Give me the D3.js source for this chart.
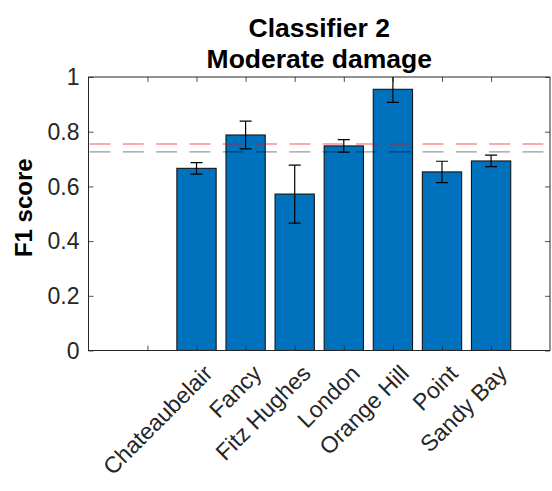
<!DOCTYPE html>
<html><head><meta charset="utf-8">
<script src="https://cdn.jsdelivr.net/npm/d3@7"></script>
<style>body{margin:0;background:#fff}svg{display:block}text{font-family:"Liberation Sans",Arial,Helvetica,sans-serif}</style>
</head><body><svg id="c" width="552" height="491"></svg>
<script>
const categories = ["", "Chateaubelair", "Fancy", "Fitz Hughes", "London", "Orange Hill", "Point", "Sandy Bay"];
const f1Values = [null, 0.666, 0.788, 0.572, 0.748, 0.955, 0.653, 0.693];
const f1Errors = [null, 0.021, 0.051, 0.106, 0.023, 0.048, 0.039, 0.021];
const refRed = 0.755;
const refGray = 0.726;
const yTicks = [0, 0.2, 0.4, 0.6, 0.8, 1];
const yTickLabels = ["0", "0.2", "0.4", "0.6", "0.8", "1"];

const svg = d3.select("#c");
const L = 88.5, R = 550, T = 77, B = 350.5;
const x = d3.scaleLinear().domain([-0.2, categories.length + 1.2]).range([L, R]);
const y = d3.scaleLinear().domain([0, 1]).range([B, T]);
const idx = categories.map((d, i) => i + 1);

svg.append("defs").append("clipPath").attr("id", "pc")
  .append("rect").attr("x", L).attr("y", T).attr("width", R - L).attr("height", B - T);

const plot = svg.append("g").attr("clip-path", "url(#pc)");
const data = idx.map((p, i) => ({p, v: f1Values[i], e: f1Errors[i]})).filter(d => d.v != null);
const bw = x(0.8) - x(0);

plot.selectAll("rect.bar").data(data).join("rect").attr("class", "bar")
  .attr("x", d => x(d.p) - bw / 2).attr("width", bw)
  .attr("y", d => y(d.v)).attr("height", d => y(0) - y(d.v))
  .attr("fill", "#0072BD").attr("stroke", "#151515").attr("stroke-width", 1.1);

// axes (box with inward ticks)
const tickLen = 5;
const axL = d3.axisRight(y).tickValues(yTicks).tickSize(tickLen).tickFormat("");
const axR = d3.axisLeft(y).tickValues(yTicks).tickSize(tickLen).tickFormat("");
const axB = d3.axisTop(x).tickValues(idx).tickSize(tickLen).tickFormat("");
const axT = d3.axisBottom(x).tickValues(idx).tickSize(tickLen).tickFormat("");
[[axL, `translate(${L},0)`], [axR, `translate(${R},0)`], [axB, `translate(0,${B})`], [axT, `translate(0,${T})`]].forEach(([a, t]) => {
  const g = svg.append("g").attr("transform", t).call(a);
  g.select(".domain").remove();
  g.selectAll("line").attr("stroke", "#262626").attr("stroke-width", 0.8);
});
svg.append("rect").attr("x", L).attr("y", T).attr("width", R - L).attr("height", B - T)
  .attr("fill", "none").attr("stroke", "#262626").attr("stroke-width", 1);

// error bars
const cap = 6;
const eb = plot.selectAll("g.eb").data(data).join("g").attr("class", "eb")
  .attr("stroke", "#000").attr("stroke-width", 1.2);
eb.append("line").attr("x1", d => x(d.p)).attr("x2", d => x(d.p))
  .attr("y1", d => y(d.v - d.e)).attr("y2", d => y(d.v + d.e));
eb.append("line").attr("x1", d => x(d.p) - cap).attr("x2", d => x(d.p) + cap)
  .attr("y1", d => y(d.v - d.e)).attr("y2", d => y(d.v - d.e));
eb.append("line").attr("x1", d => x(d.p) - cap).attr("x2", d => x(d.p) + cap)
  .attr("y1", d => y(d.v + d.e)).attr("y2", d => y(d.v + d.e));

// reference lines
[[refRed, "rgba(255,0,0,0.45)"], [refGray, "rgba(0,0,0,0.4)"]].forEach(([v, c]) => {
  plot.append("line").attr("x1", L + 1).attr("x2", R).attr("y1", y(v)).attr("y2", y(v))
    .attr("stroke", c).attr("stroke-width", 1.3).attr("stroke-dasharray", "21,12.3");
});

// y tick labels
svg.selectAll("text.yt").data(yTicks).join("text").attr("class", "yt")
  .attr("x", L - 9).attr("y", d => y(d)).attr("dy", "0.36em")
  .attr("text-anchor", "end").attr("font-size", 23).attr("fill", "#262626")
  .text((d, i) => yTickLabels[i]);

// x tick labels
svg.selectAll("text.xt").data(idx).join("text").attr("class", "xt")
  .attr("transform", d => `translate(${x(d) + 6},${B + 13}) rotate(-45)`)
  .attr("text-anchor", "end").attr("dy", "0.7em").attr("font-size", 23).attr("fill", "#262626")
  .text((d, i) => categories[i]);

// y label
svg.append("text").attr("transform", `translate(32,${(T + B) / 2 - 6}) rotate(-90)`)
  .attr("text-anchor", "middle").attr("font-size", 24).attr("font-weight", "bold").attr("fill", "#000")
  .text("F1 score");

// title
const tx = (L + R) / 2;
svg.append("text").attr("x", tx).attr("y", 36.5).attr("text-anchor", "middle")
  .attr("font-size", 26.5).attr("font-weight", "bold").text("Classifier 2");
svg.append("text").attr("x", tx).attr("y", 68.3).attr("text-anchor", "middle")
  .attr("font-size", 26.5).attr("font-weight", "bold").text("Moderate damage");
</script></body></html>
